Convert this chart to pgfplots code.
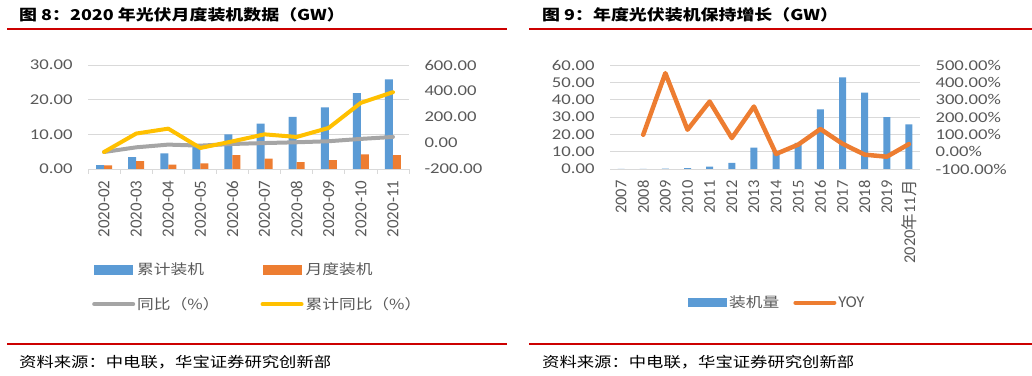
\documentclass[border=0pt]{standalone}
\usepackage{pgfplots}
\pgfplotsset{compat=1.18}
\usepackage{fontspec}
\setmainfont[FakeStretch=1.25]{Carlito}
\newfontfamily\rot{Carlito}
\newfontfamily\cjk[FakeStretch=1.2]{Noto Sans CJK SC}
\newfontfamily\cjkr{Noto Sans CJK SC}
\definecolor{cblue}{HTML}{5B9BD5}
\definecolor{corange}{HTML}{ED7D31}
\definecolor{cgray}{HTML}{A5A5A5}
\definecolor{cyellow}{HTML}{FFC000}
\definecolor{gridc}{HTML}{D9D9D9}
\definecolor{labc}{HTML}{595959}
\definecolor{cred}{HTML}{CC0000}
\pgfplotsset{
  base/.style={
    scale only axis, height=103.8bp,
    font=\fontsize{15}{17}\selectfont,
    tick label style={text=labc},
    /pgf/number format/.cd, fixed, fixed zerofill, precision=2, 1000 sep={}, assume math mode=true, /pgfplots/.cd,
    tick align=outside, major tick length=4bp, minor tick length=5bp,
    yticklabel shift=8bp,
  },
  barax/.style={base,
    axis x line*=bottom, axis y line*=left,
    y axis line style={draw=none},
    x axis line style={draw=gridc, line width=0.8bp},
    ymajorgrids, grid style={gridc, line width=0.8bp},
    major tick style={draw=none},
    minor x tick style={draw=gridc, line width=0.8bp},
    xticklabel style={rotate=90, anchor=east, text=labc},
    xticklabel shift=4bp,
  },
  lineax/.style={base,
    axis y line*=right, axis x line=none,
    y axis line style={draw=none},
    major tick style={draw=none},
  },
  barleg/.style={legend image code/.code={\fill[##1] (0bp,-4.7bp) rectangle (39bp,4.7bp);}},
  lineleg/.style={legend image code/.code={\draw[##1] (0bp,0bp) -- (39bp,0bp);}},
}
\begin{document}
\begin{tikzpicture}
\useasboundingbox (0,0) rectangle (1032bp,376bp);
% ---------- left panel ----------
\node[anchor=base west, inner sep=0pt, font=\cjk\bfseries\fontsize{15}{17}\selectfont] at (19bp,355.5bp) {图 8：2020 年光伏月度装机数据（GW）};
\draw[cred, line width=2.5bp] (7bp,347bp) -- (507bp,347bp);
\draw[cred, line width=2.5bp] (7bp,32bp) -- (507bp,32bp);
\node[anchor=base west, inner sep=0pt, font=\cjk\fontsize{14.5}{16}\selectfont] at (19bp,9bp) {资料来源：中电联，华宝证券研究创新部};

\begin{axis}[barax,
  at={(88bp,207bp)}, anchor=south west, width=321bp,
  xmin=-0.5, xmax=9.5, ymin=0, ymax=30, ytick={0,10,20,30},
  xtick={0,...,9},
  xticklabels={2020-02,2020-03,2020-04,2020-05,2020-06,2020-07,2020-08,2020-09,2020-10,2020-11},
  xticklabel style={font=\rot\fontsize{17}{17}\selectfont},
  minor xtick={-0.5,0.5,...,9.5},
  ybar=0pt, bar width=8bp,
  legend columns=2,
  legend cell align=left,
  legend style={at={(0,0)}, anchor=north west, xshift=4bp, yshift=-92bp,
    draw=none, fill=none, inner sep=0pt,
    font=\cjk\fontsize{14}{16}\selectfont, text=labc,
    row sep=17bp,
    /tikz/every even column/.append style={column sep=39bp}},
]
\addplot[fill=cblue, draw=none, barleg] coordinates {(0,1.1) (1,3.45) (2,4.5) (3,7.0) (4,10.0) (5,13.1) (6,15.1) (7,17.8) (8,21.9) (9,25.9)};
\addlegendentry{累计装机}
\addplot[fill=corange, draw=none, barleg] coordinates {(0,1.05) (1,2.3) (2,1.25) (3,1.6) (4,4.0) (5,3.0) (6,2.0) (7,2.6) (8,4.2) (9,4.0)};
\addlegendentry{月度装机}
\addlegendimage{lineleg, cgray, line width=4bp, line cap=round}
\addlegendentry{同比（\%）}
\addlegendimage{lineleg, cyellow, line width=4bp, line cap=round}
\addlegendentry{累计同比（\%）}
\end{axis}
\begin{axis}[lineax,
  at={(88bp,207bp)}, anchor=south west, width=321bp,
  xmin=-0.5, xmax=9.5, ymin=-200, ymax=600, ytick={-200,0,200,400,600},
]
\addplot[cgray, line width=4bp, line join=round, line cap=round] coordinates {(0,-69) (1,-33) (2,-12) (3,-20) (4,-7) (5,0) (6,6) (7,14) (8,32) (9,47)};
\addplot[cyellow, line width=4bp, line join=round, line cap=round] coordinates {(0,-69) (1,73) (2,111) (3,-38) (4,13) (5,67) (6,47) (7,117) (8,310) (9,392)};
\end{axis}

% ---------- right panel ----------
\node[anchor=base west, inner sep=0pt, font=\cjk\bfseries\fontsize{15}{17}\selectfont] at (542bp,355.5bp) {图 9：年度光伏装机保持增长（GW）};
\draw[cred, line width=2.5bp] (529bp,347bp) -- (1032bp,347bp);
\draw[cred, line width=2.5bp] (529bp,32bp) -- (1032bp,32bp);
\node[anchor=base west, inner sep=0pt, font=\cjk\fontsize{14.5}{16}\selectfont] at (542bp,9bp) {资料来源：中电联，华宝证券研究创新部};

\begin{axis}[barax,
  at={(610bp,207bp)}, anchor=south west, width=310bp,
  xmin=-0.5, xmax=13.5, ymin=0, ymax=60, ytick={0,10,...,60},
  xtick={0,...,13},
  xticklabels={2007,2008,2009,2010,2011,2012,2013,2014,2015,2016,2017,2018,2019,{2020{\cjkr 年}11{\cjkr 月}}},
  xticklabel style={font=\rot\fontsize{16.5}{17}\selectfont},
  minor xtick={},
  bar width=7bp,
  legend columns=2,
  legend style={at={(0,0)}, anchor=north west, xshift=78bp, yshift=-125bp,
    draw=none, fill=none, inner sep=0pt,
    font=\cjk\fontsize{14}{16}\selectfont, text=labc,
    /tikz/every even column/.append style={column sep=12bp}},
]
\addplot[ybar, fill=cblue, draw=none, barleg] coordinates {(0,0.02) (1,0.04) (2,0.16) (3,0.5) (4,1.35) (5,3.5) (6,12.4) (7,10.6) (8,15.1) (9,34.5) (10,53.0) (11,44.2) (12,30.0) (13,25.8)};
\addlegendentry{装机量}
\addlegendimage{lineleg, corange, line width=4bp, line cap=round}
\addlegendentry{\rot\fontsize{16.5}{16}\selectfont YOY}
\end{axis}
\begin{axis}[lineax,
  at={(610bp,207bp)}, anchor=south west, width=310bp,
  xmin=-0.5, xmax=13.5, ymin=-100, ymax=500, ytick={-100,0,...,500},
  yticklabel={\pgfmathprintnumber{\tick}\%},
]
\addplot[corange, line width=4.5bp, line join=round, line cap=round] coordinates {(1,98) (2,454) (3,127) (4,290) (5,79) (6,261) (7,-13) (8,41) (9,131) (10,46) (11,-17) (12,-29) (13,44)};
\end{axis}
\end{tikzpicture}
\end{document}
